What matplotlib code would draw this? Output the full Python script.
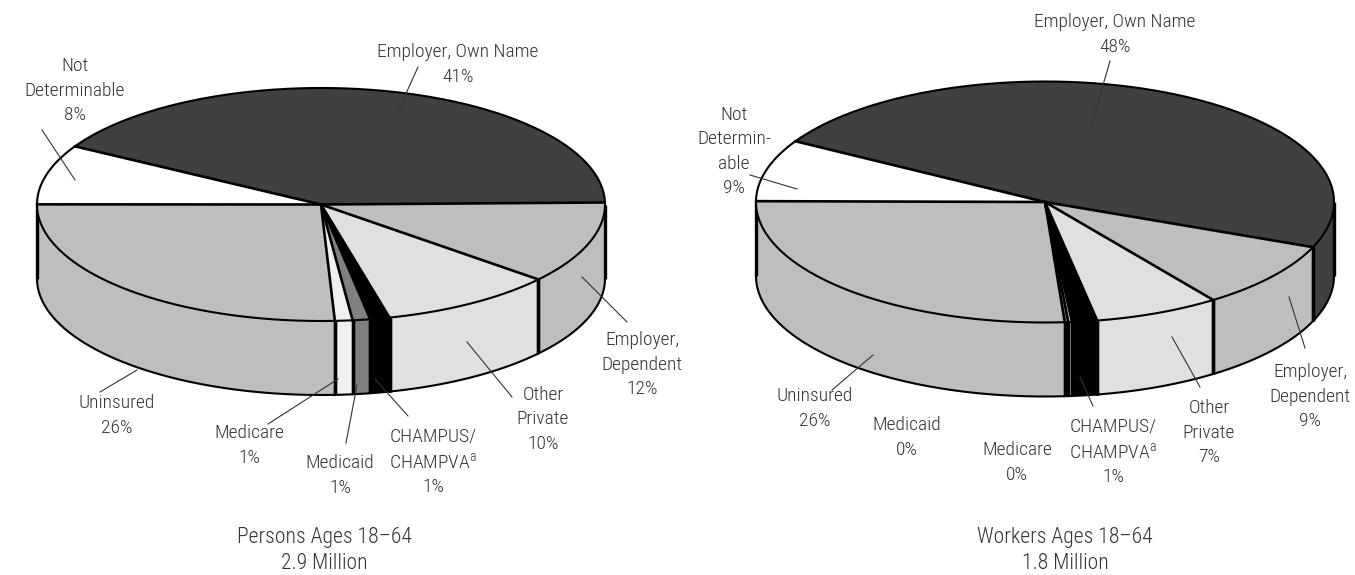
import numpy as np
from matplotlib import pyplot as plt
from matplotlib.patches import Polygon

plt.rcParams['font.family'] = ['Roboto Condensed', 'Liberation Sans', 'DejaVu Sans']
plt.rcParams['font.weight'] = 300
plt.rcParams['mathtext.fontset'] = 'custom'
plt.rcParams['mathtext.rm'] = 'Roboto Condensed:light'
plt.rcParams['mathtext.default'] = 'rm'

# slices go clockwise on screen, starting from the first boundary
persons_names = ['Employer, Dependent', 'Other Private', 'CHAMPUS/CHAMPVA', 'Medicaid', 'Medicare',
                 'Uninsured', 'Not Determinable', 'Employer, Own Name']
persons_values = [11.4, 10.0, 1.1, 1.0, 1.0, 25.8, 8.3, 41.4]
persons_pct = [12, 10, 1, 1, 1, 26, 8, 41]

workers_names = ['Employer, Dependent', 'Other Private', 'CHAMPUS/CHAMPVA', 'Medicare', 'Medicaid',
                 'Uninsured', 'Not Determinable', 'Employer, Own Name']
workers_values = [9.0, 7.0, 1.4, 0.2, 0.2, 26.2, 8.3, 47.7]
workers_pct = [9, 7, 1, 0, 0, 26, 9, 48]

slice_colors = {
    'Employer, Own Name': '#404040',
    'Employer, Dependent': '#bebebe',
    'Other Private': '#e0e0e0',
    'CHAMPUS/CHAMPVA': '#000000',
    'Medicaid': '#808080',
    'Medicare': '#f0f0f0',
    'Uninsured': '#bebebe',
    'Not Determinable': '#ffffff',
}

TEXT = '#333333'
FS = 14.0


def arc(cx, cy, rx, ry, t0, t1, dy=0):
    t = np.radians(np.linspace(t0, t1, max(int(abs(t1 - t0)) * 2, 2)))
    return np.column_stack([cx + rx * np.cos(t), cy + ry * np.sin(t) + dy])


def draw_pie(ax, values, names, start, cx, cy, rx, ry, depth):
    edges = start + np.cumsum([0] + list(values)) * 3.6

    # side walls, only the front half can be seen
    for i, name in enumerate(names):
        for shift in (0, 360, -360):
            t0 = max(edges[i] + shift, 0)
            t1 = min(edges[i + 1] + shift, 180)
            if t1 <= t0:
                continue
            top = arc(cx, cy, rx, ry, t0, t1)
            bot = arc(cx, cy, rx, ry, t0, t1, depth)
            ax.add_patch(Polygon(np.vstack([top, bot[::-1]]), fc=slice_colors[name], ec='none', zorder=2))
            ax.plot(bot[:, 0], bot[:, 1], color='k', lw=1.5, zorder=3, solid_capstyle='round')
            for t in (t0, t1):
                x, y = arc(cx, cy, rx, ry, t, t)[0]
                ax.plot([x, x], [y, y + depth], color='k', lw=2.4, zorder=3, solid_capstyle='butt')

    # top face
    for i, name in enumerate(names):
        rim = arc(cx, cy, rx, ry, edges[i], edges[i + 1])
        ax.add_patch(Polygon(np.vstack([[cx, cy], rim]), fc=slice_colors[name], ec='none', zorder=4))
        ax.plot(rim[:, 0], rim[:, 1], color='k', lw=1.5, zorder=5)
    for e in edges[:-1]:
        x, y = arc(cx, cy, rx, ry, e, e)[0]
        ax.plot([cx, x], [cy, y], color='k', lw=1.9, zorder=5, solid_capstyle='round')


def label(ax, x, y, txt, pct=None, size=FS, spacing=1.43):
    if pct is not None:
        txt = f'{txt}\n{pct}%'
    ax.text(x, y + 0.5, txt, ha='center', va='center', fontsize=size, color=TEXT, linespacing=spacing, zorder=7)


def leader(ax, x0, y0, x1, y1):
    ax.plot([x0, x1], [y0, y1], color='#333333', lw=0.8, zorder=6)


fig = plt.figure(figsize=(13.55, 5.75), dpi=100)
ax = fig.add_axes([0, 0, 1, 1])
ax.set_xlim(0, 1355)
ax.set_ylim(575, 0)
ax.axis('off')

# persons
draw_pie(ax, persons_values, persons_names, -1, 321, 204.5, 284, 116.5, 74)
p = dict(zip(persons_names, persons_pct))
label(ax, 458, 64, 'Employer, Own Name', p['Employer, Own Name'])
label(ax, 75, 90, 'Not\nDeterminable', p['Not Determinable'])
label(ax, 642, 364, 'Employer,\nDependent', p['Employer, Dependent'])
label(ax, 543, 419, 'Other\nPrivate', p['Other Private'])
label(ax, 433, 461, 'CHAMPUS/\nCHAMPVA$^{a}$', p['CHAMPUS/CHAMPVA'])
label(ax, 340, 475, 'Medicaid', p['Medicaid'])
label(ax, 249, 445, 'Medicare', p['Medicare'])
label(ax, 117, 415, 'Uninsured', p['Uninsured'])
label(ax, 324, 550, 'Persons Ages 18\u201364\n2.9 Million', size=15.6, spacing=1.28)
leader(ax, 418, 67, 399, 109)
leader(ax, 42, 130, 75, 180)
leader(ax, 582, 277, 627, 322)
leader(ax, 467, 342, 512, 397)
leader(ax, 375, 379, 408, 416)
leader(ax, 357, 385, 346, 443)
leader(ax, 338, 379, 268, 424)
leader(ax, 137, 370, 100, 392)

# workers
draw_pie(ax, workers_values, workers_names, 22, 1045, 202, 289, 120.5, 74)
w = dict(zip(workers_names, workers_pct))
label(ax, 1115, 34, 'Employer, Own Name', w['Employer, Own Name'])
label(ax, 734, 151, 'Not\nDetermin-\nable', w['Not Determinable'])
label(ax, 1310, 396, 'Employer,\nDependent', w['Employer, Dependent'])
label(ax, 1209, 432, 'Other\nPrivate', w['Other Private'])
label(ax, 1113, 451, 'CHAMPUS/\nCHAMPVA$^{a}$', w['CHAMPUS/CHAMPVA'])
label(ax, 1017, 462, 'Medicare', w['Medicare'])
label(ax, 907, 437, 'Medicaid', w['Medicaid'])
label(ax, 815, 408, 'Uninsured', w['Uninsured'])
label(ax, 1065, 550, 'Workers Ages 18\u201364\n1.8 Million', size=15.6, spacing=1.28)
leader(ax, 1110, 61, 1092, 123)
leader(ax, 750, 175, 797, 189)
leader(ax, 1289, 297, 1305, 348)
leader(ax, 1172, 337, 1200, 387)
leader(ax, 1080, 377, 1093, 406)
leader(ax, 873, 355, 832, 390)

fig.savefig('out.png', dpi=100)
